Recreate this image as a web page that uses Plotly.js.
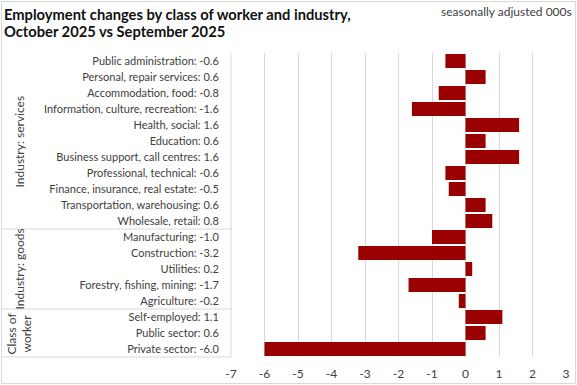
<!DOCTYPE html>
<html><head><meta charset="utf-8">
<script src="https://cdn.plot.ly/plotly-3.0.1.min.js"></script>
<style>html,body{margin:0;padding:0;background:#fff}</style>
</head><body><div id="chart" style="width:577px;height:385px"></div>
<script>
const categories = ["Public administration", "Personal, repair services", "Accommodation, food", "Information, culture, recreation", "Health, social", "Education", "Business support, call centres", "Professional, technical", "Finance, insurance, real estate", "Transportation, warehousing", "Wholesale, retail", "Manufacturing", "Construction", "Utilities", "Forestry, fishing, mining", "Agriculture", "Self-employed", "Public sector", "Private sector"];
const values = [-0.6, 0.6, -0.8, -1.6, 1.6, 0.6, 1.6, -0.6, -0.5, 0.6, 0.8, -1.0, -3.2, 0.2, -1.7, -0.2, 1.1, 0.6, -6.0];
const groups = ["Industry: services", "Industry: goods", "Class of<br>worker"];
const groupSizes = [11, 5, 3];
const xTickVals = [-7, -6, -5, -4, -3, -2, -1, 0, 1, 2, 3];
const titleLines = ["Employment changes by class of worker and industry,", "October 2025 vs September 2025"];
const subtitleText = "seasonally adjusted 000s";

const W = 577, H = 385;
const M = {l: 231, r: 11, t: 53, b: 28};
const PW = W - M.l - M.r, PH = H - M.t - M.b;
const px = x => (x - M.l) / PW;
const py = y => 1 - (y - M.t) / PH;
const n = categories.length;
const rowY = k => 1 - k / n;

const FONT = "Lato, 'Liberation Sans', sans-serif";
const GRID = "#d9d9d9";
const TXT = "#404040";

const tickText = categories.map((c, i) => c + ": " + values[i].toFixed(1));

const shapes = [];
const annotations = [];
shapes.push({type: "rect", xref: "paper", yref: "paper", x0: px(1.5), x1: px(575.5), y0: py(1.5), y1: py(383.5), line: {color: GRID, width: 1}, layer: "below"});
shapes.push({type: "line", xref: "paper", yref: "paper", x0: 0, x1: 0, y0: 0, y1: 1, line: {color: GRID, width: 1}});
let acc = 0;
groups.forEach((g, gi) => {
  const start = acc;
  acc += groupSizes[gi];
  shapes.push({type: "line", xref: "paper", yref: "paper", x0: px(2), x1: 0, y0: rowY(acc), y1: rowY(acc), line: {color: GRID, width: 1}});
  annotations.push({xref: "paper", yref: "paper", x: px(18.5), y: rowY(start + groupSizes[gi] / 2), text: g, textangle: -90, showarrow: false, xanchor: "center", yanchor: "middle", font: {family: FONT, size: 12, color: TXT}});
});
annotations.push({xref: "paper", yref: "paper", x: px(574), y: py(11.5), text: subtitleText, showarrow: false, xanchor: "right", yanchor: "middle", font: {family: FONT, size: 12, color: TXT}});
const titleCenters = [13.5, 31];
titleLines.forEach((t, i) => {
  annotations.push({xref: "paper", yref: "paper", x: px(2), y: py(titleCenters[i]), text: "<b>" + t + "</b>", showarrow: false, xanchor: "left", yanchor: "middle", font: {family: FONT, size: 14.7, color: "#111111"}});
});

const trace = {
  type: "bar", orientation: "h",
  y: categories, x: values,
  marker: {color: "#990000"},
  hoverinfo: "none"
};

const layout = {
  width: W, height: H,
  margin: M,
  paper_bgcolor: "#fff", plot_bgcolor: "#fff",
  bargap: 0.125,
  showlegend: false,
  xaxis: {range: [-7, 3], tickvals: xTickVals, ticktext: xTickVals.map(String), showgrid: true, gridcolor: GRID, gridwidth: 1, zeroline: false, showline: false, ticks: "outside", ticklen: 6, tickcolor: "rgba(0,0,0,0)", tickfont: {family: FONT, size: 12, color: TXT}, fixedrange: true},
  yaxis: {type: "category", autorange: "reversed", tickvals: categories, ticktext: tickText, showgrid: false, zeroline: false, showline: false, ticks: "outside", ticklen: 9, tickcolor: "rgba(0,0,0,0)", tickfont: {family: FONT, size: 11, color: TXT}, fixedrange: true},
  shapes: shapes,
  annotations: annotations
};

Plotly.newPlot("chart", [trace], layout, {displayModeBar: false, staticPlot: true});
</script>
</body></html>
